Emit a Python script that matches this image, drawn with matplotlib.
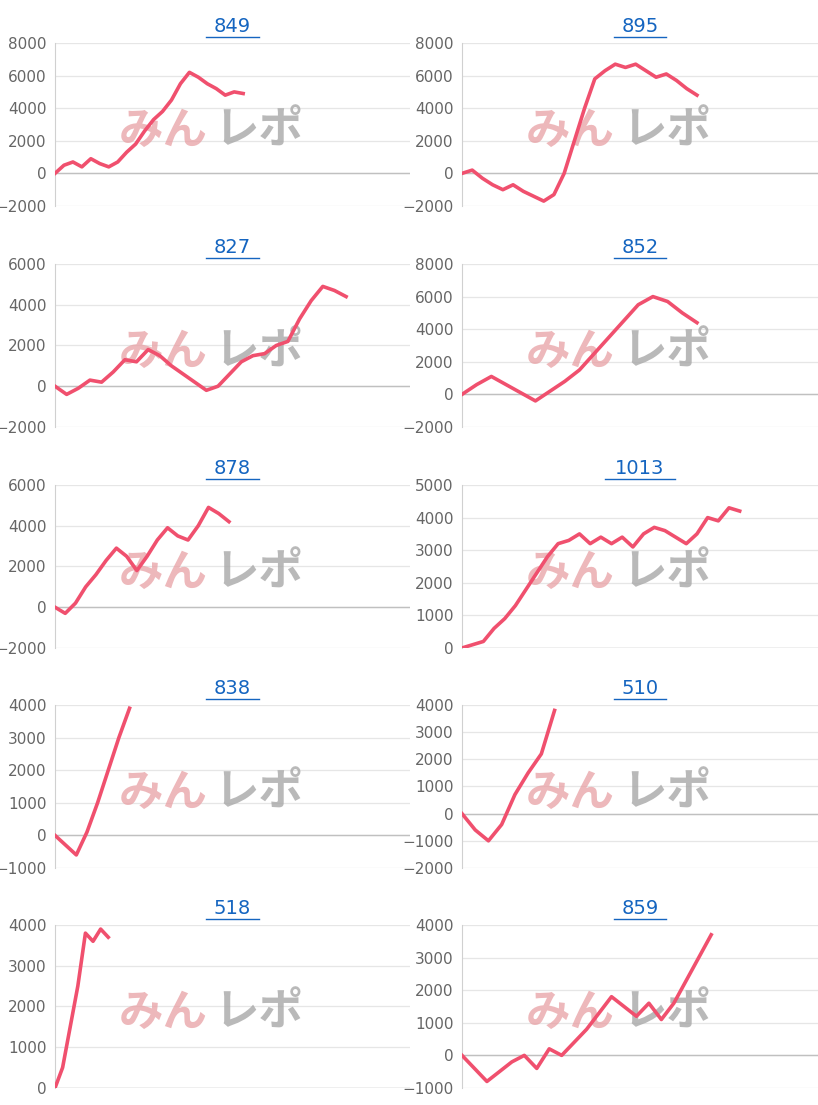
import matplotlib.pyplot as plt

titles = ["849", "895", "827", "852", "878", "1013", "838", "510", "518", "859"]

s849 = [0, 500, 700, 400, 900, 600, 400, 700, 1300, 1800, 2600, 3300, 3800, 4500, 5500, 6200, 5900, 5500, 5200, 4800, 5000, 4900]
s895 = [0, 200, -300, -700, -1000, -700, -1100, -1400, -1700, -1300, 0, 2000, 4000, 5800, 6300, 6700, 6500, 6700, 6300, 5900, 6100, 5700, 5200, 4800]
s827 = [0, -400, -100, 300, 200, 700, 1300, 1200, 1800, 1500, 1000, 600, 200, -200, 0, 600, 1200, 1500, 1600, 2000, 2200, 3300, 4200, 4900, 4700, 4400]
s852 = [0, 600, 1100, 600, 100, -400, 200, 800, 1500, 2500, 3500, 4500, 5500, 6000, 5700, 5000, 4400]
s878 = [0, -300, 200, 1000, 1600, 2300, 2900, 2500, 1800, 2500, 3300, 3900, 3500, 3300, 4000, 4900, 4600, 4200]
s1013 = [0, 100, 200, 600, 900, 1300, 1800, 2300, 2800, 3200, 3300, 3500, 3200, 3400, 3200, 3400, 3100, 3500, 3700, 3600, 3400, 3200, 3500, 4000, 3900, 4300, 4200]
s838 = [0, -300, -600, 100, 1000, 2000, 3000, 3900]
s510 = [0, -600, -1000, -400, 700, 1500, 2200, 3800]
s518 = [0, 500, 1500, 2500, 3800, 3600, 3900, 3700]
s859 = [0, -400, -800, -500, -200, 0, -400, 200, 0, 400, 800, 1300, 1800, 1500, 1200, 1600, 1100, 1600, 2300, 3000, 3700]
series = [s849, s895, s827, s852, s878, s1013, s838, s510, s518, s859]

# fraction of the axis width each line covers
spans = [0.53, 0.66, 0.82, 0.66, 0.49, 0.78, 0.21, 0.26, 0.15, 0.70]
ylims = [(-2000, 8000), (-2000, 8000), (-2000, 6000), (-2000, 8000), (-2000, 6000),
         (0, 5000), (-1000, 4000), (-2000, 4000), (0, 4000), (-1000, 4000)]
steps = [2000, 2000, 2000, 2000, 2000, 1000, 1000, 1000, 1000, 1000]

W, H = 818, 1105
fig = plt.figure(figsize=(W / 100, H / 100), dpi=100)

tops = [43, 264, 485, 705, 925]
for i in range(10):
    r, c = divmod(i, 2)
    left = 55 if c == 0 else 462
    width = 355 if c == 0 else 356
    ax = fig.add_axes([left / W, 1 - (tops[r] + 163) / H, width / W, 163 / H])
    ax.patch.set_visible(False)
    y = series[i]
    n = len(y)
    ax.plot(range(n), y, color="#f0506e", lw=2.6, zorder=3)
    ax.set_xlim(0, (n - 1) / spans[i])
    lo, hi = ylims[i]
    ax.set_ylim(lo - 1, hi)
    ax.set_yticks(range(lo, hi + 1, steps[i]))
    ax.set_xticks([])
    ax.grid(axis="y", color="#e6e6e6", lw=0.9)
    ax.axhline(0, color="#c0c0c0", lw=1)
    for s in ["top", "right", "bottom"]:
        ax.spines[s].set_visible(False)
    ax.spines["left"].set_color("#d0d0d0")
    ax.tick_params(axis="y", length=0, labelsize=11, labelcolor="#666666", pad=6)
    ax.set_title(titles[i], fontsize=14, color="#1565c0", pad=8)
    # watermark
    ax.text(0.43, 0.46, "みん", transform=ax.transAxes, ha="right", va="center",
            fontsize=32, fontweight="bold", style="italic", color="#e8a0a4", alpha=0.75,
            family=["Noto Sans CJK JP", "DejaVu Sans"], zorder=2)
    ax.text(0.45, 0.46, "レポ", transform=ax.transAxes, ha="left", va="center",
            fontsize=32, fontweight="bold", style="italic", color="#a8a8a8", alpha=0.8,
            family=["Noto Sans CJK JP", "DejaVu Sans"], zorder=2)
    # title underline
    tw = 0.0245 * len(titles[i]) * 355 / width
    ax.plot([0.5 - tw, 0.5 + tw], [1.035, 1.035], transform=ax.transAxes, color="#1565c0",
            lw=1, clip_on=False)

fig.savefig("out.png", dpi=100)
